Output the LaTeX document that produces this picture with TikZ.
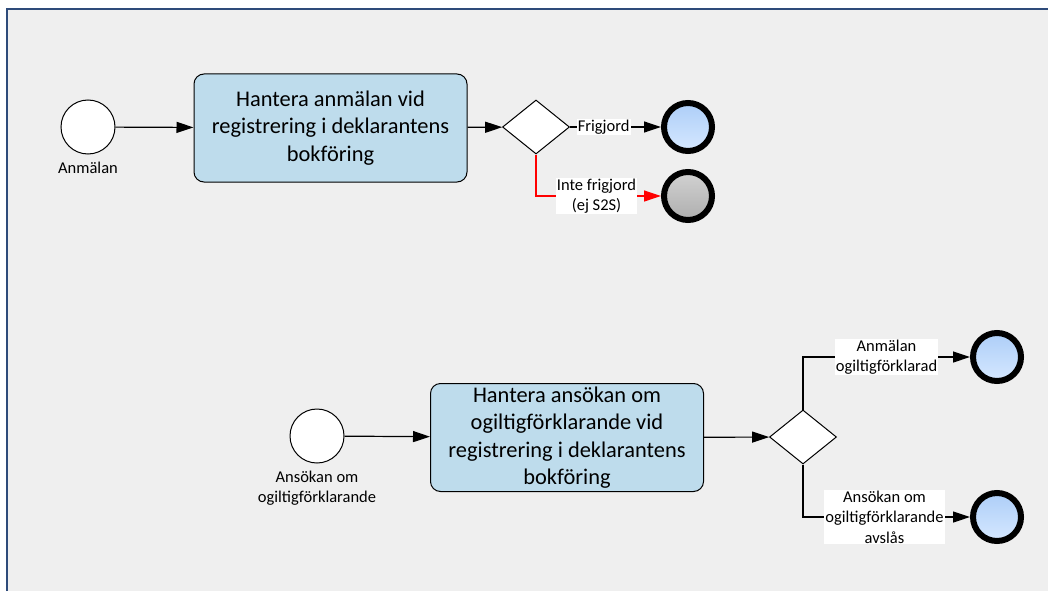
\documentclass[tikz,border=0pt]{standalone}
\usepackage{fontspec}
\setmainfont{Carlito}
\usepackage{tikz}
\usetikzlibrary{arrows.meta,shapes.geometric}
\definecolor{frame}{HTML}{2E4B7A}
\definecolor{bg}{HTML}{EFEFEF}
\definecolor{taskfill}{HTML}{BEDCEC}
\definecolor{endtop}{HTML}{ADCEF8}
\definecolor{endbot}{HTML}{D6E8FF}
\definecolor{graytop}{HTML}{D2D2D2}
\definecolor{graybot}{HTML}{AEAEAE}
\definecolor{redflow}{HTML}{FF0000}
\tikzset{
  task/.style={rectangle, rounded corners=10pt, draw=black, line width=1pt, fill=taskfill,
    minimum width=273pt, minimum height=108pt, align=center, inner sep=0pt,
    font=\fontsize{22.4}{27.3}\selectfont},
  startev/.style={circle, draw=black, line width=1pt, fill=white, minimum size=54pt, inner sep=0pt},
  endev/.style={circle, draw=black, line width=6pt, top color=endtop, bottom color=endbot,
    minimum size=48pt, inner sep=0pt},
  endgray/.style={endev, top color=graytop, bottom color=graybot},
  gw/.style={diamond, draw=black, line width=1pt, fill=white, minimum width=67pt,
    minimum height=54pt, inner sep=0pt},
  flow/.style={-{Triangle[length=17pt,width=11pt]}, line width=1.2pt, draw=black},
  rflow/.style={flow, draw=redflow, -{Triangle[length=17pt,width=11pt,fill=redflow]}},
  small/.style={font=\fontsize{16.5}{20.5}\selectfont, align=center, inner sep=1pt},
  lbl/.style={small, fill=white, text=black}
}

\begin{document}
\begin{tikzpicture}[x=1pt,y=-1pt]
  \useasboundingbox (0,0) rectangle (1048,591);
  \fill[white] (0,0) rectangle (1048,591);
  \fill[bg] (7,9) rectangle (1048,591);
  \draw[frame, line width=1.5pt] (7,591) -- (7,9) -- (1048,9);

  % Upper process
  \node[startev] (s1) at (88,127) {};
  \node[small] (s1txt) at (88,168) {Anmälan};
  \node[task] (t1) at (330.5,128) {Hantera anmälan vid\\registrering i deklarantens\\bokföring};
  \node[gw] (g1) at (536,127) {};
  \node[endev] (e1) at (688,127) {};
  \node[endgray] (e2) at (688,196) {};
  \draw[flow] (s1) -- (t1);
  \draw[flow] (t1) -- (g1);
  \draw[flow] (g1.east) -- node[lbl, pos=0.37] (l1) {Frigjord} (e1);
  \draw[rflow] (g1.south) |- node[lbl, pos=0.742] (l2) {Inte frigjord\\(ej S2S)} (e2);

  % Lower process
  \node[startev] (s2) at (317,436) {};
  \node[small] (s2txt) at (317,488) {Ansökan om\\ogiltigförklarande};
  \node[task] (t2) at (567,437.5) {Hantera ansökan om\\ogiltigförklarande vid\\registrering i deklarantens\\bokföring};
  \node[gw] (g2) at (803,437) {};
  \node[endev] (e3) at (997,357) {};
  \node[endev] (e4) at (997,517) {};
  \draw[flow] (s2) -- (t2);
  \draw[flow] (t2) -- (g2);
  \draw[flow] (g2.north) |- node[lbl, pos=0.75] (l3) {Anmälan\\ogiltigförklarad} (e3);
  \draw[flow] (g2.south) |- node[lbl, pos=0.744] (l4) {Ansökan om\\ogiltigförklarande\\avslås} (e4);
\end{tikzpicture}
\end{document}
